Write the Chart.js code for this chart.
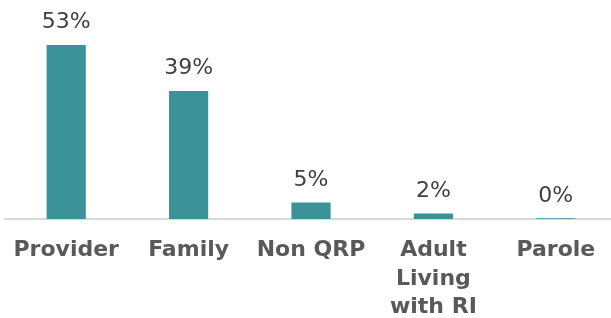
<!DOCTYPE html>
<html>
<head>
<meta charset="utf-8">
<script src="https://cdn.jsdelivr.net/npm/chart.js@4.4.0/dist/chart.umd.min.js"></script>
<style>
    html, body { margin: 0; padding: 0; background: #fff; overflow: hidden; }
    #wrap { width: 618px; height: 318px; }
</style>
</head>
<body>
<div id="wrap"><canvas id="placementChart"></canvas></div>
<script>
// categories (multi-line label for the 4th one)
const categories = ['Provider', 'Family', 'Non QRP', ['Adult', 'Living', 'with RI'], 'Parole'];
// percent share per category
const shares = [53, 39, 5, 1.7, 0.2];

const barColor = '#3a9298';

// draws "53%" etc. above each bar
const valueLabels = {
    id: 'valueLabels',
    afterDatasetsDraw(chart) {
        const ctx = chart.ctx;
        const meta = chart.getDatasetMeta(0);
        ctx.save();
        ctx.font = '22px "DejaVu Sans", Verdana, sans-serif';
        ctx.fillStyle = '#404040';
        ctx.textAlign = 'center';
        ctx.textBaseline = 'alphabetic';
        meta.data.forEach((bar, i) => {
            ctx.fillText(Math.round(shares[i]) + '%', bar.x, bar.y - 16.5);
        });
        ctx.restore();
    }
};

document.addEventListener("DOMContentLoaded", function () {
    const ctx = document.getElementById('placementChart').getContext('2d');
    new Chart(ctx, {
        type: 'bar',
        data: {
            labels: categories,
            datasets: [{
                data: shares,
                backgroundColor: barColor,
                borderWidth: 0,
                barPercentage: 0.32,
                categoryPercentage: 1
            }]
        },
        options: {
            responsive: true,
            maintainAspectRatio: false,
            animation: false,
            layout: { padding: { left: 5, right: 1, top: 0, bottom: 0 } },
            plugins: {
                legend: { display: false },
                tooltip: { enabled: false }
            },
            scales: {
                y: {
                    display: false,
                    min: 0,
                    max: 66.7
                },
                x: {
                    grid: { display: false },
                    border: { display: true, color: '#d9d9d9', width: 2 },
                    ticks: {
                        color: '#595959',
                        padding: 9,
                        maxRotation: 0,
                        autoSkip: false,
                        font: { family: '"DejaVu Sans", Verdana, sans-serif', size: 22, weight: 'bold', lineHeight: 1.3 }
                    },
                    afterFit(scale) { scale.height = 99; }
                }
            }
        },
        plugins: [valueLabels]
    });
});
</script>
</body>
</html>
